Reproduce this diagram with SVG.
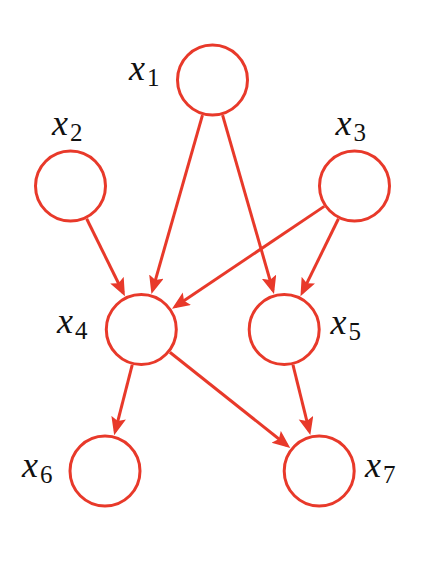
<svg xmlns="http://www.w3.org/2000/svg" width="438" height="580" viewBox="0 0 438 580">
<style>
.node{fill:#fff;stroke:#e8392a;stroke-width:3}
.edge{stroke:#e8392a;stroke-width:3;fill:none;marker-end:url(#arr)}
text{fill:#111;font-family:"Liberation Serif","DejaVu Serif",serif;font-size:36px}
.s{font-size:25px}
</style>
<defs>
<marker id="arr" markerUnits="userSpaceOnUse" markerWidth="19" markerHeight="16" refX="14" refY="7.5" orient="auto">
<path d="M0,0 L18,7.5 L0,15 L3.5,7.5 z" fill="#e8392a"/>
</marker>
</defs>
<rect width="438" height="580" fill="#fff"/>
<g id="connectors">
<line class="edge" x1="202.48" y1="115.10" x2="152.55" y2="290.07"/>
<line class="edge" x1="222.58" y1="115.08" x2="272.88" y2="290.10"/>
<line class="edge" x1="86.65" y1="218.74" x2="123.16" y2="292.72"/>
<line class="edge" x1="324.22" y1="206.38" x2="175.32" y2="306.61"/>
<line class="edge" x1="338.44" y1="218.78" x2="302.24" y2="292.68"/>
<line class="edge" x1="132.23" y1="364.85" x2="115.18" y2="431.29"/>
<line class="edge" x1="169.86" y1="352.22" x2="287.11" y2="445.48"/>
<line class="edge" x1="292.96" y1="364.93" x2="309.36" y2="431.20"/>
</g>
<g id="x1"><circle class="node" cx="212.5" cy="80" r="35"/><text x="129" y="80"><tspan font-style="italic">x</tspan><tspan class="s" dx="2" dy="6">1</tspan></text></g>
<g id="x2"><circle class="node" cx="70.5" cy="186" r="35"/><text x="52" y="135"><tspan font-style="italic">x</tspan><tspan class="s" dx="2" dy="6">2</tspan></text></g>
<g id="x3"><circle class="node" cx="354.5" cy="186" r="35"/><text x="335.5" y="135"><tspan font-style="italic">x</tspan><tspan class="s" dx="2" dy="6">3</tspan></text></g>
<g id="x4"><circle class="node" cx="141.3" cy="329.5" r="35"/><text x="57" y="333"><tspan font-style="italic">x</tspan><tspan class="s" dx="2" dy="6">4</tspan></text></g>
<g id="x5"><circle class="node" cx="284.2" cy="329.5" r="35"/><text x="330.5" y="334"><tspan font-style="italic">x</tspan><tspan class="s" dx="2" dy="6">5</tspan></text></g>
<g id="x6"><circle class="node" cx="105" cy="471" r="35"/><text x="22" y="477"><tspan font-style="italic">x</tspan><tspan class="s" dx="2" dy="6">6</tspan></text></g>
<g id="x7"><circle class="node" cx="319.2" cy="471" r="35"/><text x="365" y="477"><tspan font-style="italic">x</tspan><tspan class="s" dx="2" dy="6">7</tspan></text></g>
</svg>
